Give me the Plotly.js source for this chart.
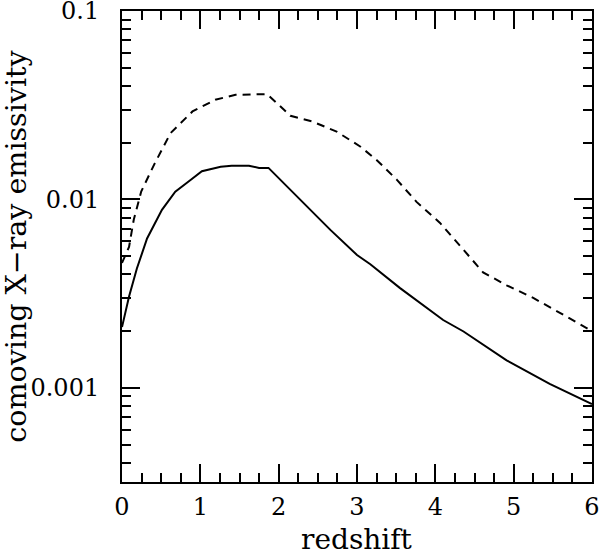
<!DOCTYPE html>
<html>
<head>
<meta charset="utf-8">
<script src="https://cdn.plot.ly/plotly-3.0.1.min.js"></script>
<style>
  body { margin: 0; background: #ffffff; }
  #chart { width: 600px; height: 550px; }
</style>
</head>
<body>
<div id="chart"></div>
<script>
// Solid curve
var solidZ = [0, 0.09, 0.19, 0.32, 0.51, 0.68, 0.85, 1.02, 1.26, 1.40, 1.62, 1.75, 1.87,
  2.28, 2.47, 2.66, 3.0, 3.17, 3.55, 4.10, 4.36, 4.91, 5.46, 6.0];
var solidV = [0.0021, 0.00305, 0.0043, 0.0062, 0.0088, 0.0110, 0.01245, 0.0141, 0.0149,
  0.0151, 0.0151, 0.0147, 0.0147, 0.00993, 0.00828, 0.00689, 0.00507, 0.00453,
  0.00338, 0.00229, 0.00199, 0.00140, 0.00105, 0.00082];

// Dashed curve
var dashZ = [0, 0.09, 0.15, 0.245, 0.41, 0.51, 0.62, 0.90, 1.19, 1.45, 1.85, 2.0, 2.15, 2.43,
  2.74, 3.04, 3.25, 3.51, 3.76, 4.06, 4.36, 4.61, 4.91, 5.25, 5.59, 6.0];
var dashV = [0.0046, 0.0056, 0.0078, 0.0110, 0.0153, 0.0185, 0.0225, 0.0293, 0.0338, 0.0359,
  0.0362, 0.0318, 0.0278, 0.0259, 0.0229, 0.0191, 0.0162, 0.0127, 0.0097,
  0.0075, 0.0054, 0.0041, 0.0035, 0.0030, 0.0025, 0.0020];

// Tick labels
var yTickVals = [0.001, 0.01, 0.1];
var yTickText = ["0.001", "0.01", "0.1"];
var xTickVals = [0, 1, 2, 3, 4, 5, 6];

var solidTrace = {
  x: solidZ,
  y: solidV,
  mode: "lines",
  type: "scatter",
  line: { color: "#000000", width: 2 },
};

var dashTrace = {
  x: dashZ,
  y: dashV,
  mode: "lines",
  type: "scatter",
  line: { color: "#000000", width: 2, dash: "8px,6px" },
};

var font = "DejaVu Serif, serif";

var layout = {
  width: 600,
  height: 550,
  showlegend: false,
  margin: { t: 11, b: 68, l: 122, r: 8, pad: 0 },
  plot_bgcolor: "#ffffff",
  paper_bgcolor: "#ffffff",
  font: { family: font, color: "#000000", size: 24 },
  xaxis: {
    range: [0, 6],
    tickvals: xTickVals,
    ticks: "inside",
    ticklen: 18,
    tickwidth: 2,
    tickcolor: "#000000",
    ticklabelstandoff: 2,
    ticklabeloverflow: "allow",
    minor: { dtick: 0.25, ticks: "inside", ticklen: 9, tickwidth: 2, tickcolor: "#000000" },
    showline: true,
    linewidth: 2,
    linecolor: "#000000",
    mirror: "allticks",
    showgrid: false,
    zeroline: false,
    tickfont: { family: font, size: 24 },
  },
  yaxis: {
    type: "log",
    range: [-3.5, -1],
    tickvals: yTickVals,
    ticktext: yTickText,
    ticks: "inside",
    ticklen: 18,
    tickwidth: 2,
    tickcolor: "#000000",
    ticklabelstandoff: 16,
    ticklabeloverflow: "allow",
    minor: { dtick: "D1", ticks: "inside", ticklen: 9, tickwidth: 2, tickcolor: "#000000" },
    showline: true,
    linewidth: 2,
    linecolor: "#000000",
    mirror: "allticks",
    showgrid: false,
    zeroline: false,
    tickfont: { family: font, size: 24 },
    title: { text: "comoving X\u2212ray emissivity", font: { family: font, size: 28.5 }, standoff: 4 },
  },
  // x title sits lower than plotly allows inside the margin, so it is an annotation
  annotations: [{
    text: "redshift",
    xref: "paper",
    yref: "paper",
    x: 0.5,
    y: 0,
    xanchor: "center",
    yanchor: "top",
    yshift: -39,
    showarrow: false,
    font: { family: font, size: 28 },
  }],
};

var config = { staticPlot: true };

Plotly.newPlot(document.getElementById("chart"), [solidTrace, dashTrace], layout, config);
</script>
</body>
</html>
